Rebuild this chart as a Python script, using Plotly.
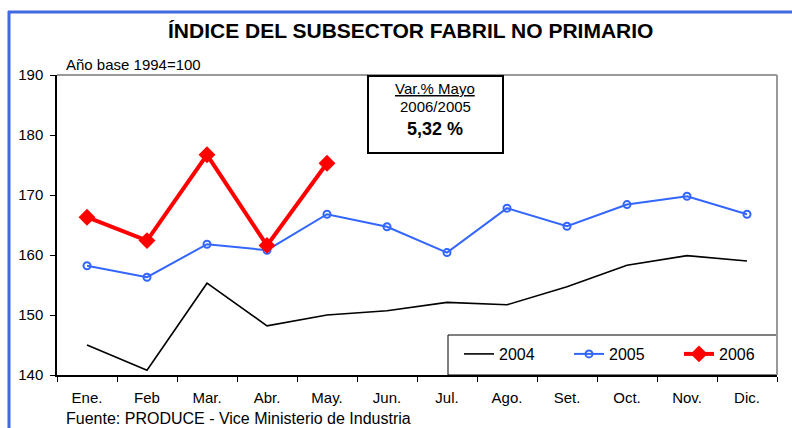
import plotly.graph_objects as go

months = ["Ene.", "Feb", "Mar.", "Abr.", "May.", "Jun.", "Jul.", "Ago.", "Set.", "Oct.", "Nov.", "Dic."]
y2004 = [145.0, 140.8, 155.3, 148.2, 150.0, 150.7, 152.1, 151.7, 154.7, 158.3, 159.9, 159.0]
y2005 = [158.2, 156.3, 161.8, 160.8, 166.8, 164.7, 160.4, 167.8, 164.8, 168.4, 169.8, 166.8]
y2006 = [166.3, 162.4, 176.7, 161.6, 175.3]

FONT = "Arial, Liberation Sans, sans-serif"
W, H = 792, 428
L, R, T, B = 57, 777, 75, 375

def px(x):
    return (x - L) / (R - L)

def py(y):
    return (B - y) / (B - T)

fig = go.Figure()
fig.add_trace(go.Scatter(x=months, y=y2004, name="2004", mode="lines",
                         line=dict(color="black", width=1.6)))
fig.add_trace(go.Scatter(x=months, y=y2005, name="2005", mode="lines+markers",
                         line=dict(color="#3366FF", width=2),
                         marker=dict(symbol="circle-open", size=7, color="#3366FF", line=dict(width=2))))
fig.add_trace(go.Scatter(x=months[:len(y2006)], y=y2006, name="2006", mode="lines+markers",
                         line=dict(color="#FF0000", width=4),
                         marker=dict(symbol="diamond", size=13, color="#FF0000")))

shapes = [
    # grey top/right plot border
    dict(type="line", xref="paper", yref="paper", x0=0, x1=1, y0=1, y1=1, line=dict(color="#999999", width=2)),
    dict(type="line", xref="paper", yref="paper", x0=1, x1=1, y0=0, y1=1, line=dict(color="#999999", width=2)),
    # outer blue frame (top and left)
    dict(type="line", xref="paper", yref="paper", x0=px(8), x1=px(800), y0=py(12), y1=py(12), line=dict(color="#4169E1", width=3)),
    dict(type="line", xref="paper", yref="paper", x0=px(9), x1=px(9), y0=py(11), y1=py(440), line=dict(color="#4169E1", width=3)),
    # Var box
    dict(type="rect", xref="paper", yref="paper", x0=px(368), x1=px(503), y0=py(153), y1=py(76),
         line=dict(color="black", width=2), fillcolor="white"),
    # legend box
    dict(type="rect", xref="paper", yref="paper", x0=px(448), x1=1, y0=py(375), y1=py(335),
         line=dict(color="black", width=1), fillcolor="white", layer="below"),
]

annotations = [
    dict(text="<b>ÍNDICE DEL SUBSECTOR FABRIL NO PRIMARIO</b>", xref="paper", yref="paper",
         x=px(410), y=py(30), xanchor="center", yanchor="middle", showarrow=False,
         font=dict(family=FONT, size=21, color="black")),
    dict(text="Año base 1994=100", xref="paper", yref="paper", x=px(64), y=py(64),
         xanchor="left", yanchor="middle", showarrow=False, font=dict(family=FONT, size=15, color="black")),
    dict(text="Fuente: PRODUCE - Vice Ministerio de Industria", xref="paper", yref="paper", x=px(64), y=py(418),
         xanchor="left", yanchor="middle", showarrow=False, font=dict(family=FONT, size=16, color="black")),
    dict(text="<u>Var.% Mayo</u>", xref="paper", yref="paper", x=px(435), y=py(88),
         xanchor="center", yanchor="middle", showarrow=False, font=dict(family=FONT, size=15, color="black")),
    dict(text="2006/2005", xref="paper", yref="paper", x=px(435), y=py(106),
         xanchor="center", yanchor="middle", showarrow=False, font=dict(family=FONT, size=15, color="black")),
    dict(text="<b>5,32 %</b>", xref="paper", yref="paper", x=px(435), y=py(129),
         xanchor="center", yanchor="middle", showarrow=False, font=dict(family=FONT, size=18, color="black")),
]

fig.update_layout(
    width=W, height=H,
    margin=dict(l=L, r=W - R, t=T, b=H - B, pad=0, autoexpand=False),
    paper_bgcolor="white", plot_bgcolor="white",
    font=dict(family=FONT, size=14, color="black"),
    showlegend=True,
    legend=dict(orientation="h", x=px(459), y=py(337), xanchor="left", yanchor="top",
                bgcolor="rgba(0,0,0,0)", borderwidth=0, font=dict(family=FONT, size=16, color="black"),
                entrywidth=65, itemwidth=30, tracegroupgap=0),
    shapes=shapes, annotations=annotations,
)
fig.update_xaxes(type="category", showgrid=False, showline=True, linecolor="black", linewidth=1.5,
                 ticks="outside", ticklen=5, tickcolor="black", tickson="boundaries",
                 ticklabelstandoff=8,
                 tickfont=dict(family=FONT, size=15, color="black"), range=[-0.5, 11.5], zeroline=False)
fig.update_yaxes(range=[140, 190], dtick=10, showgrid=False, showline=True, linecolor="black", linewidth=1.5,
                 ticks="outside", ticklen=5, tickcolor="black", ticklabelstandoff=4,
                 tickfont=dict(family=FONT, size=15, color="black"), zeroline=False)

fig.write_html("out.html", config={"displayModeBar": False},
               post_script="document.body.style.margin='0';document.body.style.overflow='hidden';")
